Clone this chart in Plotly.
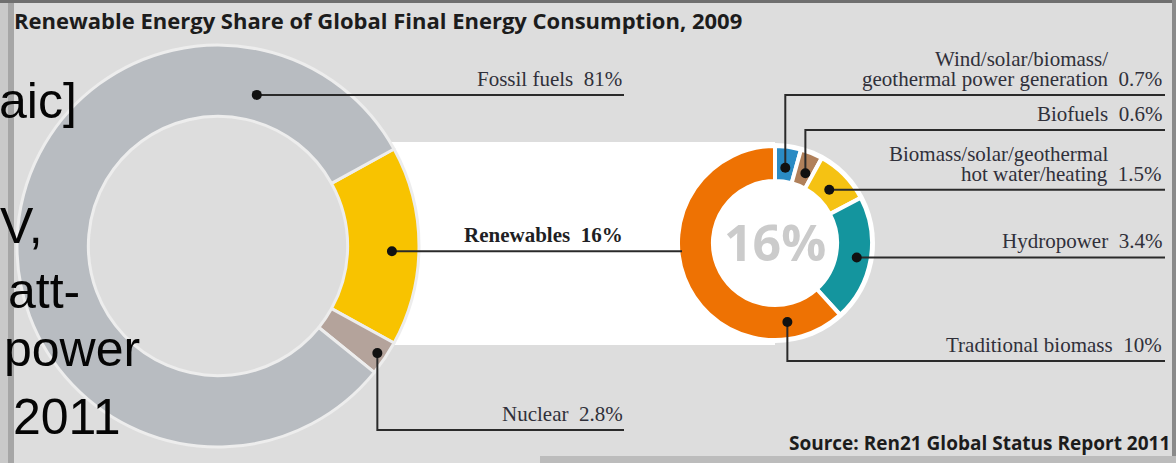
import math
import plotly.graph_objects as go

W, H = 1176, 463

# ---------------- data ----------------
title_text = "Renewable Energy Share of Global Final Energy Consumption, 2009"
source_text = "Source: Ren21 Global Status Report 2011"

main_labels = ["Renewables", "Nuclear", "Fossil fuels"]
main_values = [16, 2.8, 81]
main_colors = ["#f8c300", "#b4a39b", "#b8bcc1"]

ren_labels = ["Wind/solar/biomass/<br>geothermal power generation", "Biofuels",
              "Biomass/solar/geothermal<br>hot water/heating", "Hydropower",
              "Traditional biomass"]
ren_values = [0.7, 0.6, 1.5, 3.4, 10]
ren_colors = ["#2a8bc4", "#b0805a", "#f5c213", "#14959e", "#ee7203"]

center_text = "16%"
slide_lines = ["aic]", "V,", "att-", "power", "2011"]

# ---------------- geometry helpers (pixels -> paper) ----------------
def px(x):
    return x / W

def py(y):
    return 1 - y / H

BIG = dict(cx=218, cy=246, r=201, hole=0.645)
SMALL = dict(cx=775, cy=243, r=97, hole=0.64)

# approximate advance widths (em) of Liberation Serif for the value strings
SERIF_EM = {" ": 0.25, ".": 0.25, "%": 0.833}


def text_em(s):
    return sum(SERIF_EM.get(c, 0.5) for c in s)


def slice_angles(values, rotation):
    tot = sum(values)
    out, a = [], rotation
    for v in values:
        span = v / tot * 360
        out.append((a, a + span))
        a += span
    return out


def point(d, theta, rad):
    t = math.radians(theta)
    return d["cx"] + rad * math.sin(t), d["cy"] - rad * math.cos(t)


def fmt(v):
    return f"{v:g}%"

big_rot = 90 - main_values[0] / sum(main_values) * 360 / 2
small_rot = 0
big_ang = slice_angles(main_values, big_rot)
small_ang = slice_angles(ren_values, small_rot)

fig = go.Figure()

fig.add_trace(go.Pie(
    values=main_values, labels=main_labels, sort=False, direction="clockwise",
    rotation=big_rot, hole=BIG["hole"],
    marker=dict(colors=main_colors, line=dict(color="#ededed", width=3)),
    textinfo="none", hoverinfo="skip", showlegend=False,
    domain=dict(x=[px(BIG["cx"] - BIG["r"]), px(BIG["cx"] + BIG["r"])],
                y=[py(BIG["cy"] + BIG["r"]), py(BIG["cy"] - BIG["r"])]),
))

fig.add_trace(go.Pie(
    values=ren_values, labels=[l.replace("<br>", " ") for l in ren_labels], sort=False,
    direction="clockwise", rotation=small_rot, hole=SMALL["hole"],
    marker=dict(colors=ren_colors, line=dict(color="#ffffff", width=4)),
    textinfo="none", hoverinfo="skip", showlegend=False,
    domain=dict(x=[px(SMALL["cx"] - SMALL["r"]), px(SMALL["cx"] + SMALL["r"])],
                y=[py(SMALL["cy"] + SMALL["r"]), py(SMALL["cy"] - SMALL["r"])]),
))

shapes = []
annos = []
LINE_C = "#2a2a2a"
TXT_C = "#30303a"
SERIF = "Liberation Serif"
SANS = "Open Sans"

# background pieces
shapes.append(dict(type="rect", xref="paper", yref="paper", layer="below",
                   x0=px(380), x1=px(SMALL["cx"]), y0=py(345), y1=py(142),
                   fillcolor="#ffffff", line=dict(width=0)))
shapes.append(dict(type="circle", xref="paper", yref="paper", layer="below",
                   x0=px(SMALL["cx"] - SMALL["r"] - 3), x1=px(SMALL["cx"] + SMALL["r"] + 3),
                   y0=py(SMALL["cy"] + SMALL["r"] + 3), y1=py(SMALL["cy"] - SMALL["r"] - 3),
                   fillcolor="#ffffff", line=dict(width=0)))
shapes.append(dict(type="rect", xref="paper", yref="paper", layer="below",
                   x0=0, x1=px(8), y0=0, y1=1, fillcolor="#c9c9c9", line=dict(width=0)))
shapes.append(dict(type="rect", xref="paper", yref="paper", layer="below",
                   x0=px(8), x1=px(14), y0=0, y1=1, fillcolor="#a6a6a6", line=dict(width=0)))
shapes.append(dict(type="rect", xref="paper", yref="paper", layer="below",
                   x0=0, x1=1, y0=py(3), y1=1, fillcolor="#6f6f6f", line=dict(width=0)))
shapes.append(dict(type="rect", xref="paper", yref="paper", layer="below",
                   x0=px(1172), x1=1, y0=0, y1=1, fillcolor="#8a8a8a", line=dict(width=0)))
shapes.append(dict(type="rect", xref="paper", yref="paper", layer="below",
                   x0=px(540), x1=1, y0=0, y1=py(456), fillcolor="#bcbcbc", line=dict(width=0)))


def dot(x, y):
    shapes.append(dict(type="circle", xref="paper", yref="paper", layer="above",
                       x0=px(x - 5), x1=px(x + 5), y0=py(y + 5), y1=py(y - 5),
                       fillcolor="#111111", line=dict(width=0)))


def path(points):
    d = "M " + " L ".join(f"{px(x)},{py(y)}" for x, y in points)
    shapes.append(dict(type="path", xref="paper", yref="paper", layer="above",
                       path=d, line=dict(color=LINE_C, width=2)))


def label(name, value, xr, ybottom, bold=False, size=21, lead=20):
    lines = name.split("<br>")
    val = f"  {fmt(value)}"
    val_w = text_em(val) * size
    n = len(lines)
    for k, ln in enumerate(lines):
        last = k == n - 1
        txt = ln + val if last else ln
        x = xr if last else xr - val_w
        annos.append(dict(text=txt, xref="paper", yref="paper", x=px(x),
                          y=py(ybottom - (n - 1 - k) * lead),
                          xanchor="right", yanchor="bottom", align="right", showarrow=False,
                          borderpad=0,
                          font=dict(family=SERIF, size=size,
                                    color="#1f1f24" if bold else TXT_C,
                                    weight=700 if bold else 400)))

# ---- big donut leaders ----
big_anchor = {"Fossil fuels": (0.84, 156), "Renewables": (0.53, 174), "Nuclear": (0.5, 192)}
LEFT_END = 624
for i, name in enumerate(main_labels):
    a0, a1 = big_ang[i]
    f, rad = big_anchor[name]
    x, y = point(BIG, a0 + f * (a1 - a0), rad)
    if name == "Fossil fuels":
        path([(x, y), (LEFT_END, y)])
        label(name, main_values[i], LEFT_END - 1, y - 3)
    elif name == "Renewables":
        path([(x, y), (SMALL["cx"] - SMALL["r"] + 4, y)])
        label(name, main_values[i], LEFT_END, y - 3, bold=True)
    else:
        yl = 430
        path([(x, y), (x, yl), (LEFT_END, yl)])
        label(name, main_values[i], LEFT_END, yl - 3)
    dot(x, y)

# ---- small donut leaders ----
RIGHT_END = 1165
small_anchor = [(0.5, 76, 95), (0.6, 76, 130), (0.5, 76, None), (0.5, 83, None), (0.15, 80, 361)]
for i, name in enumerate(ren_labels):
    a0, a1 = small_ang[i]
    f, rad, yl = small_anchor[i]
    x, y = point(SMALL, a0 + f * (a1 - a0), rad)
    if yl is None:
        path([(x, y), (RIGHT_END, y)])
        label(name, ren_values[i], RIGHT_END - 2, y - 3)
    else:
        path([(x, y), (x, yl), (RIGHT_END, yl)])
        label(name, ren_values[i], RIGHT_END - 2, yl - 3)
    dot(x, y)

# centre text of small donut
annos.append(dict(text=center_text, xref="paper", yref="paper", x=px(SMALL["cx"]), y=py(242),
                  xanchor="center", yanchor="middle", showarrow=False,
                  font=dict(family=SANS, size=50, color="#cbcbcb", weight=700)))

# title and source
annos.append(dict(text=title_text, xref="paper", yref="paper", x=px(12), y=py(20),
                  xanchor="left", yanchor="middle", showarrow=False,
                  font=dict(family=SANS, size=22, color="#1c1c1c", weight=700)))
annos.append(dict(text=source_text, xref="paper", yref="paper", x=px(1172), y=py(443),
                  xanchor="right", yanchor="middle", showarrow=False,
                  font=dict(family=SANS, size=19, color="#1c1c1c", weight=700)))

# overlaid slide text (cut at left edge)
slide_pos = [(79, 101), (45, 226), (82, 291), (142, 349), (123, 417)]
for t, (xr, yc) in zip(slide_lines, slide_pos):
    annos.append(dict(text=t, xref="paper", yref="paper", x=px(xr), y=py(yc),
                      xanchor="right", yanchor="middle", showarrow=False,
                      font=dict(family="Liberation Sans", size=50, color="#050505")))

fig.update_layout(
    width=W, height=H, margin=dict(l=0, r=0, t=0, b=0),
    paper_bgcolor="#dddddd", plot_bgcolor="#dddddd",
    shapes=shapes, annotations=annos,
)

fig.write_html("out.html", config={"displayModeBar": False},
               post_script="document.body.style.margin='0';")
